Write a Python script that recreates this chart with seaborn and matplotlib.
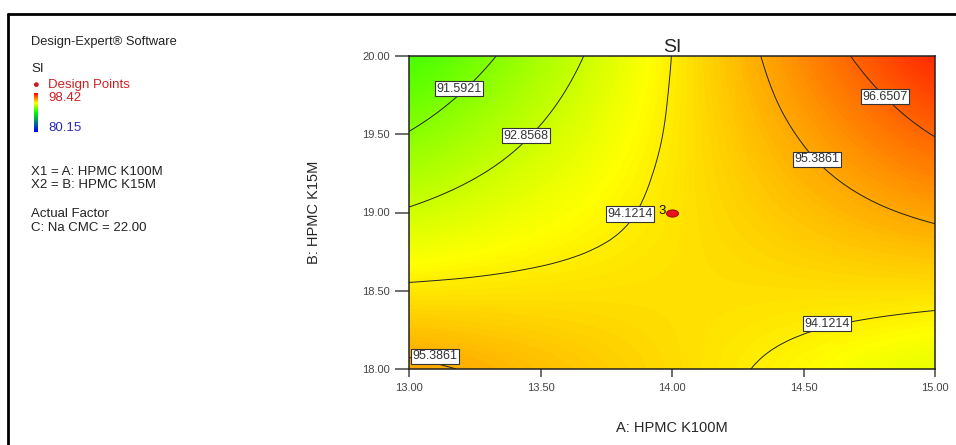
import numpy as np
import matplotlib
matplotlib.use("Agg")
import matplotlib.pyplot as plt
import seaborn as sns
from matplotlib.colors import LinearSegmentedColormap
from matplotlib.lines import Line2D
from matplotlib.path import Path
from matplotlib.transforms import Affine2D
from matplotlib.tri import Triangulation, UniformTriRefiner

# factor levels (A: HPMC K100M, B: HPMC K15M)
a_levels = [13.0, 13.25, 13.5, 13.75, 14.0, 14.25, 14.5, 14.75, 15.0]
b_levels = [18.0, 18.25, 18.5, 18.75, 19.0, 19.25, 19.5, 19.75, 20.0]

# SI, one row per B level (bottom to top)
si_grid = [
    [95.58, 95.31, 95.04, 94.76, 94.48, 94.18, 93.89, 93.58, 93.28],
    [94.92, 94.81, 94.69, 94.56, 94.43, 94.29, 94.15, 94.00, 93.84],
    [94.26, 94.30, 94.34, 94.37, 94.39, 94.40, 94.41, 94.42, 94.41],
    [93.61, 93.80, 93.99, 94.17, 94.34, 94.51, 94.68, 94.83, 94.98],
    [92.95, 93.30, 93.64, 93.97, 94.30, 94.62, 94.94, 95.25, 95.55],
    [92.29, 92.79, 93.29, 93.78, 94.26, 94.73, 95.20, 95.66, 96.12],
    [91.64, 92.29, 92.94, 93.58, 94.21, 94.84, 95.46, 96.08, 96.69],
    [90.98, 91.79, 92.59, 93.38, 94.17, 94.95, 95.73, 96.49, 97.26],
    [90.33, 91.28, 92.24, 93.18, 94.13, 95.06, 95.99, 96.91, 97.83],
]

contour_levels = [91.5921, 92.8568, 94.1214, 95.3861, 96.6507]
label_spots = [(13.19, 19.79), (13.445, 19.49), (13.84, 18.99), (14.55, 19.34),
               (14.81, 19.74), (14.59, 18.29), (13.10, 18.08)]

si_min, si_max = 80.15, 98.42
design_a = [14.0]
design_b = [19.0]
design_reps = ["3"]

sns.set_theme(style="ticks")
plt.rcParams["font.family"] = ["Liberation Sans", "DejaVu Sans"]

de_cmap = LinearSegmentedColormap.from_list(
    "design_expert", [(0.0, "#0000ff"), (0.5, "#00ff00"), (0.75, "#ffff00"), (1.0, "#ff0000")])

fig = plt.figure(figsize=(9.56, 4.45), dpi=100)
ax = fig.add_axes([409 / 956, 1 - 369 / 445, 526 / 956, 313 / 445])

grid = np.array(si_grid)
da = (a_levels[1] - a_levels[0]) / 2
db = (b_levels[1] - b_levels[0]) / 2
ax.imshow(grid, origin="lower", aspect="auto", interpolation="bicubic",
          extent=[a_levels[0] - da, a_levels[-1] + da, b_levels[0] - db, b_levels[-1] + db],
          cmap=de_cmap, vmin=si_min, vmax=si_max)

# smooth contour lines through the read grid
A, B = np.meshgrid(a_levels, b_levels)
tri = Triangulation(A.ravel(), B.ravel())
tri_f, si_f = UniformTriRefiner(tri).refine_field(grid.ravel(), subdiv=3)
cs = ax.tricontour(tri_f, si_f, levels=contour_levels, colors="#222222", linewidths=0.7)
texts = ax.clabel(cs, inline=False, fmt="%.4f", fontsize=9, manual=label_spots, colors="#333333")
for t, pos in zip(texts, label_spots):
    t.set_position(pos)
    t.set_rotation(0)
    t.set_bbox(dict(facecolor="white", edgecolor="#333333", linewidth=0.8, pad=1.2))

# design point
ellipse = Path.unit_circle().transformed(Affine2D().scale(1, 0.6))
sns.scatterplot(x=design_a, y=design_b, marker=ellipse, s=75, color="#e8141c",
                edgecolor="#8b0000", linewidth=0.6, ax=ax, zorder=5)
for x, y, r in zip(design_a, design_b, design_reps):
    ax.text(x - 0.025, y + 0.01, r, fontsize=9.5, ha="right", va="center", color="#111111", zorder=6)

ax.set_xlim(13, 15)
ax.set_ylim(18, 20)
ax.set_xticks([13.0, 13.5, 14.0, 14.5, 15.0])
ax.set_yticks([18.0, 18.5, 19.0, 19.5, 20.0])
ax.set_xticklabels(["13.00", "13.50", "14.00", "14.50", "15.00"])
ax.set_yticklabels(["18.00", "18.50", "19.00", "19.50", "20.00"])
ax.tick_params(axis="x", length=5.8, width=1.2, color="#555555", labelsize=8, labelcolor="#444444", pad=4.5)
ax.tick_params(axis="y", length=10, width=1.2, color="#555555", labelsize=8, labelcolor="#444444", pad=3.6)
for s in ax.spines.values():
    s.set_color("#222222")
    s.set_linewidth(1.1)

ax.set_title("SI", fontsize=14, pad=2)
ax.set_xlabel("A: HPMC K100M", fontsize=10.5)
ax.xaxis.set_label_coords(0.5, -0.165)
ax.set_ylabel("B: HPMC K15M", fontsize=10.5)
ax.yaxis.set_label_coords(-0.168, 0.5)

# left info panel
def ftext(x, y, s, size=9.5, **kw):
    fig.text(x / 956, 1 - y / 445, s, va="center", ha="left", fontsize=size, **kw)

ftext(31, 42, "Design-Expert\u00ae Software", color="#222222", size=9.3)
ftext(31, 69, "SI", color="#222222")
ftext(32, 85, "\u25cf", color="#cc1a1a", size=8)
ftext(48, 85, "Design Points", color="#cc2222")
ftext(48, 98, "98.42", color="#cc2222")
ftext(48, 128, "80.15", color="#2a2ab0")
ftext(31, 172, "X1 = A: HPMC K100M", color="#222222")
ftext(31, 185, "X2 = B: HPMC K15M", color="#222222")
ftext(31, 214, "Actual Factor", color="#222222")
ftext(31, 228, "C: Na CMC = 22.00", color="#222222")

cax = fig.add_axes([34 / 956, 1 - 132 / 445, 4 / 956, 39 / 445])
cax.imshow(np.linspace(si_min, si_max, 100).reshape(-1, 1), origin="lower", aspect="auto",
           cmap=de_cmap, vmin=si_min, vmax=si_max)
cax.set_axis_off()

# outer frame (left and top edges)
fig.add_artist(Line2D([8 / 956, 8 / 956], [0, 1 - 14 / 445], transform=fig.transFigure, color="black", lw=2))
fig.add_artist(Line2D([8 / 956, 1], [1 - 14 / 445, 1 - 14 / 445], transform=fig.transFigure, color="black", lw=2))

fig.savefig("out.png", dpi=100)
